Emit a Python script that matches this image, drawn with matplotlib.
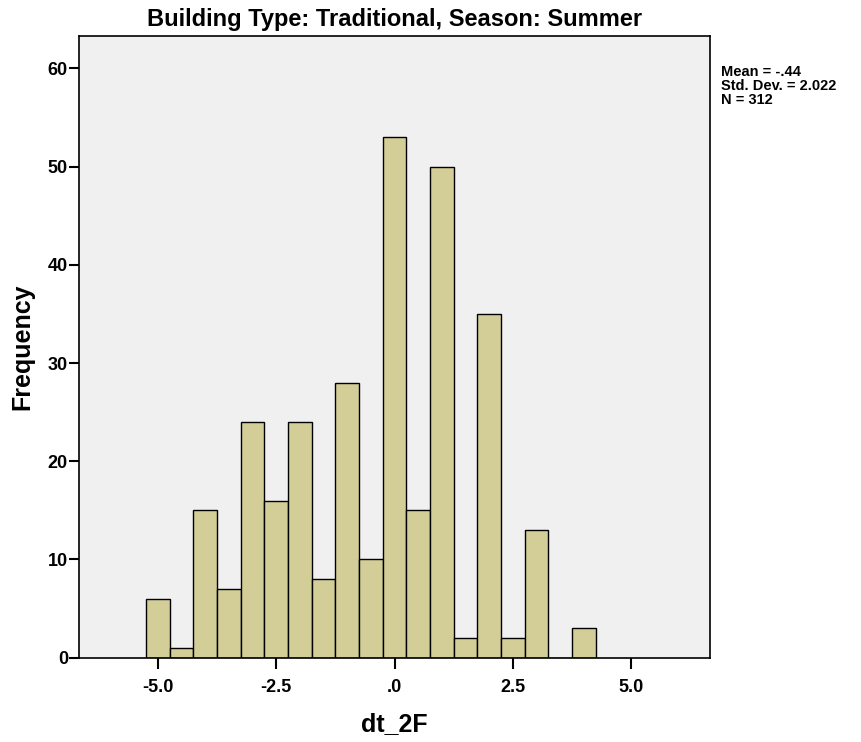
import numpy as np
import matplotlib.pyplot as plt

plt.rcParams["font.family"] = ["Liberation Sans", "DejaVu Sans"]

# ---------------------------------------------------------
# DATA (bin centres, bin width 0.5)
# ---------------------------------------------------------
bin_centers = [-5.0, -4.5, -4.0, -3.5, -3.0, -2.5, -2.0, -1.5, -1.0, -0.5,
               0.0, 0.5, 1.0, 1.5, 2.0, 2.5, 3.0, 3.5, 4.0]
counts = [6, 1, 15, 7, 24, 16, 24, 8, 28, 10,
          53, 15, 50, 2, 35, 2, 13, 0, 3]
bin_width = 0.5

x_ticks = [-5.0, -2.5, 0.0, 2.5, 5.0]
x_ticklabels = ["-5.0", "-2.5", ".0", "2.5", "5.0"]
y_ticks = [0, 10, 20, 30, 40, 50, 60]

stats_text = "Mean = -.44\nStd. Dev. = 2.022\nN = 312"

# ---------------------------------------------------------
# FIGURE
# ---------------------------------------------------------
fig = plt.figure(figsize=(8.61, 7.42), dpi=100)
ax = fig.add_axes([0.0918, 0.1136, 0.7328, 0.8379])
ax.set_facecolor("#F0F0F0")

ax.bar(bin_centers, counts, width=bin_width, color="#D3CE97",
       edgecolor="black", linewidth=1.0, zorder=2)

ax.set_xlim(-6.67, 6.67)
ax.set_ylim(0, 63.3)

ax.set_xticks(x_ticks)
ax.set_xticklabels(x_ticklabels)
ax.set_yticks(y_ticks)

for s in ax.spines.values():
    s.set_linewidth(1.2)
    s.set_color("black")

ax.tick_params(axis="both", length=8, width=1.5, labelsize=13, pad=3)
for lab in ax.get_xticklabels() + ax.get_yticklabels():
    lab.set_fontweight("bold")
ax.tick_params(axis="x", pad=7)
ax.tick_params(axis="y", length=7, pad=1)

ax.set_xlabel("dt_2F", fontsize=18, fontweight="bold", labelpad=12)
ax.set_ylabel("Frequency", fontsize=18, fontweight="bold", labelpad=10)
ax.set_title("Building Type: Traditional, Season: Summer",
             fontsize=17, fontweight="bold", pad=7)

fig.text(0.837, 0.912, stats_text, fontsize=10.5, fontweight="bold",
         va="top", ha="left", linespacing=1.0)

fig.savefig("out.png", dpi=100)
